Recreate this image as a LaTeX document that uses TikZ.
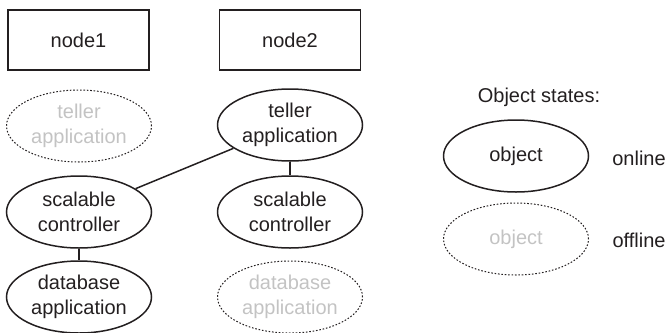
\documentclass[tikz,border=0pt]{standalone}
\usepackage{fontspec}
\setmainfont{Liberation Sans}
\usetikzlibrary{shapes.geometric}
\definecolor{offgray}{RGB}{195,195,195}
\definecolor{ink}{RGB}{35,31,32}
\tikzset{
  box/.style={draw=ink, text=ink, line width=1.5pt, minimum width=141pt, minimum height=60pt, inner sep=0pt, font=\fontsize{20}{25}\selectfont},
  online/.style={draw=ink, text=ink, ellipse, line width=1.5pt, minimum width=145pt, minimum height=72pt, inner sep=0pt, align=center, font=\fontsize{20}{25}\selectfont},
  offline/.style={draw=ink, ellipse, line width=1pt, dash pattern=on 1.6pt off 1.8pt, minimum width=145pt, minimum height=72pt, inner sep=0pt, align=center, text=offgray, font=\fontsize{20}{25}\selectfont},
  label/.style={text=ink, font=\fontsize{20}{25}\selectfont, inner sep=0pt},
  conn/.style={draw=ink, line width=1.5pt}
}
\begin{document}
\begin{tikzpicture}[x=1pt,y=-1pt]
\useasboundingbox (0,0) rectangle (668,332);
\node[box] (n1) at (78.5,40) {node1};
\node[box] (n2) at (290,40) {node2};
\node[offline] (t1) at (79,126) {teller\\application};
\node[online] (s1) at (79,212) {scalable\\controller};
\node[online] (d1) at (79,297) {database\\application};
\node[online] (t2) at (290,125) {teller\\application};
\node[online] (s2) at (290,212) {scalable\\controller};
\node[offline] (d2) at (290,297) {database\\application};
\draw[conn] (t2) -- (s1);
\draw[conn] (t2) -- (s2);
\draw[conn] (s1) -- (d1);
\node[label] (leg) at (539,97) {Object states:};
\node[online] (o1) at (516,156) {object};
\node[label] (on) at (639,158) {online};
\node[offline] (o2) at (516,239) {object};
\node[label] (off) at (639,240) {offline};
\end{tikzpicture}
\end{document}
